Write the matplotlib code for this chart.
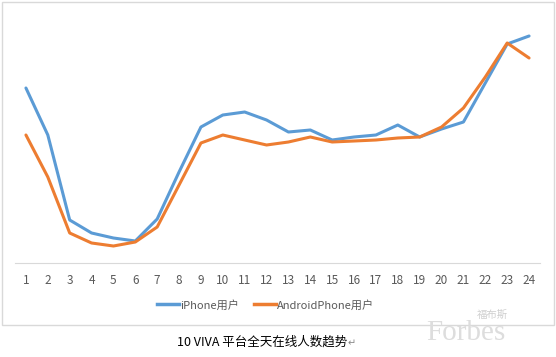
import matplotlib
matplotlib.use("Agg")
import matplotlib.pyplot as plt
from matplotlib.patches import Rectangle
from matplotlib.lines import Line2D

plt.rcParams['font.family'] = ['Noto Sans CJK SC', 'DejaVu Sans']

hours = list(range(1, 25))
iphone = [175, 128, 43, 30, 25, 22, 44, 91, 136, 148, 151, 143, 131, 133, 123, 126, 128, 138, 126, 134, 141, 180, 219, 227]
android = [128, 86, 30, 20, 17, 21, 36, 78, 120, 128, 123, 118, 121, 126, 121, 122, 123, 125, 126, 136, 155, 186, 220, 205]
labels = ["iPhone用户", "AndroidPhone用户"]
title = "10 VIVA 平台全天在线人数趋势"

W, H = 556, 357
fig = plt.figure(figsize=(W/100, H/100), dpi=100)

# outer frame
fig.patches.append(Rectangle((2/W, 1 - 325/H), 552/W, 323/H, transform=fig.transFigure,
                             fill=False, edgecolor='#d9d9d9', linewidth=1))

ax = fig.add_axes([15/W, 1 - 263/H, 525/W, 243/H])
ax.plot(hours, iphone, color='#5B9BD5', linewidth=2.2, solid_capstyle='round')
ax.plot(hours, android, color='#ED7D31', linewidth=2.2, solid_capstyle='round')
ax.set_xlim(0.5, 24.5)
ax.set_ylim(0, 243)
for s in ['top', 'right', 'left']:
    ax.spines[s].set_visible(False)
ax.spines['bottom'].set_color('#d9d9d9')
ax.set_yticks([])
ax.set_xticks(hours)
ax.set_xticklabels([str(h) for h in hours])
ax.tick_params(axis='x', length=0, labelsize=8.5, labelcolor='#595959', pad=8)

handles = [Line2D([0], [0], color='#5B9BD5', lw=2.5),
           Line2D([0], [0], color='#ED7D31', lw=2.5)]
fig.legend(handles, labels, loc='center', bbox_to_anchor=(0.478, 1 - 305/H), ncol=2,
           frameon=False, fontsize=8, handlelength=2.0, handletextpad=0.1,
           columnspacing=1.3, labelcolor='#595959')

fig.text(262/W, 1 - 342/H, title, ha='center', va='center', fontsize=9, color='black')
fig.text(352/W, 1 - 343/H, "↵", ha='center', va='center', fontsize=7, color='#888888',
         family=['DejaVu Sans'])

# watermark
fig.text(466/W, 1 - 333/H, "Forbes", ha='center', va='center', fontsize=21, color='#dddddd',
         family=['Liberation Serif'])
fig.text(492/W, 1 - 315/H, "福布斯", ha='center', va='center', fontsize=7.5, color='#cfcfcf')

fig.savefig("out.png", dpi=100)
